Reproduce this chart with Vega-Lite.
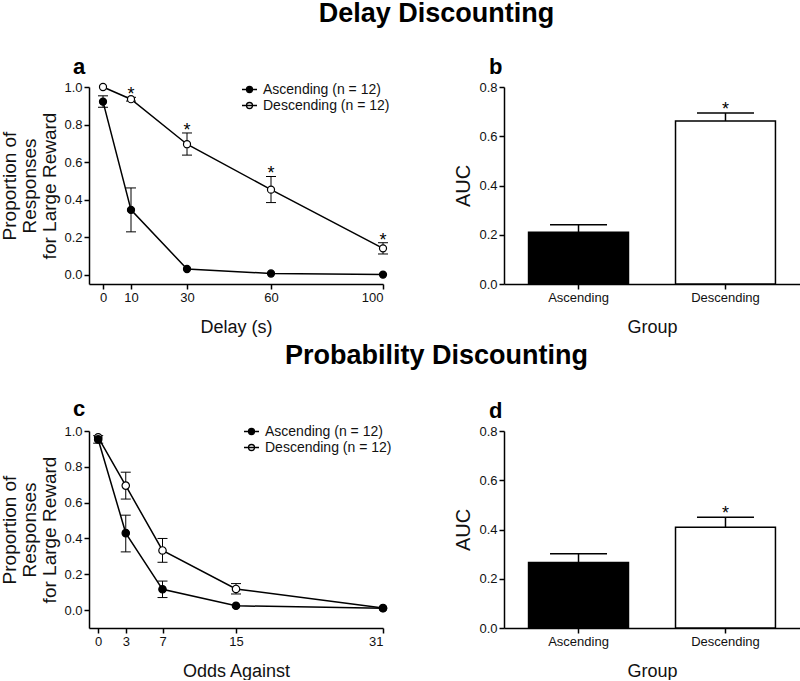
{
  "$schema": "https://vega.github.io/schema/vega-lite/v6.json",
  "autosize": {"type": "pad"},
  "padding": {"left": 0, "top": 0, "right": 0, "bottom": 0},
  "background": "white",
  "spacing": 6,
  "resolve": {"scale": {"fill": "independent"}, "legend": {"fill": "independent"}},
  "config": {
    "font": "Liberation Sans",
    "view": {"stroke": null},
    "axis": {"domainColor": "#000", "domainWidth": 1.5, "tickColor": "#000", "tickWidth": 1.5, "tickSize": 5, "labelColor": "#111", "labelFontSize": 13, "labelPadding": 2, "titleColor": "#111", "titleFontSize": 18, "titleFontWeight": "normal", "grid": false},
    "legend": {"padding": 0}
  },
  "datasets": {
    "delay": [
      {"series": "Descending (n = 12)", "delay": 0, "mean": 1.0},
      {"series": "Descending (n = 12)", "delay": 10, "mean": 0.935, "lo": 0.925, "hi": 0.945, "sig": "*"},
      {"series": "Descending (n = 12)", "delay": 30, "mean": 0.695, "lo": 0.637, "hi": 0.755, "sig": "*"},
      {"series": "Descending (n = 12)", "delay": 60, "mean": 0.453, "lo": 0.384, "hi": 0.523, "sig": "*"},
      {"series": "Descending (n = 12)", "delay": 100, "mean": 0.14, "lo": 0.11, "hi": 0.17, "sig": "*"},
      {"series": "Ascending (n = 12)", "delay": 0, "mean": 0.922, "lo": 0.892, "hi": 0.953},
      {"series": "Ascending (n = 12)", "delay": 10, "mean": 0.345, "lo": 0.228, "hi": 0.462},
      {"series": "Ascending (n = 12)", "delay": 30, "mean": 0.03},
      {"series": "Ascending (n = 12)", "delay": 60, "mean": 0.006},
      {"series": "Ascending (n = 12)", "delay": 100, "mean": 0.0}
    ],
    "delayAuc": [
      {"group": "Ascending", "auc": 0.21, "hi": 0.241},
      {"group": "Descending", "auc": 0.662, "hi": 0.694, "sig": "*"}
    ],
    "prob": [
      {"series": "Descending (n = 12)", "odds": 0, "mean": 0.965},
      {"series": "Descending (n = 12)", "odds": 3, "mean": 0.695, "lo": 0.62, "hi": 0.77},
      {"series": "Descending (n = 12)", "odds": 7, "mean": 0.333, "lo": 0.267, "hi": 0.4},
      {"series": "Descending (n = 12)", "odds": 15, "mean": 0.118, "lo": 0.09, "hi": 0.148},
      {"series": "Descending (n = 12)", "odds": 31, "mean": 0.012},
      {"series": "Ascending (n = 12)", "odds": 0, "mean": 0.953, "lo": 0.932, "hi": 0.974},
      {"series": "Ascending (n = 12)", "odds": 3, "mean": 0.43, "lo": 0.325, "hi": 0.53},
      {"series": "Ascending (n = 12)", "odds": 7, "mean": 0.116, "lo": 0.07, "hi": 0.162},
      {"series": "Ascending (n = 12)", "odds": 15, "mean": 0.024},
      {"series": "Ascending (n = 12)", "odds": 31, "mean": 0.01}
    ],
    "probAuc": [
      {"group": "Ascending", "auc": 0.266, "hi": 0.302},
      {"group": "Descending", "auc": 0.409, "hi": 0.45, "sig": "*"}
    ]
  },
  "vconcat": [
    {
      "title": {"text": "Delay Discounting", "fontSize": 27, "fontWeight": "bold", "color": "#000", "anchor": "middle", "frame": "bounds", "dx": 36, "baseline": "alphabetic", "offset": 7},
      "bounds": "flush",
      "spacing": 121,
      "resolve": {"scale": {"fill": "independent"}, "legend": {"fill": "independent"}},
      "hconcat": [
        {
          "width": 294, "height": 197,
          "title": {"text": "a", "anchor": "start", "frame": "group", "dx": -16, "fontSize": 22, "fontWeight": "bold", "color": "#000", "baseline": "alphabetic", "offset": -15},
          "data": {"name": "delay"},
          "encoding": {
            "x": {"field": "delay", "type": "quantitative", "scale": {"domain": [-5, 100], "nice": false, "zero": false}, "axis": {"values": [0, 10, 30, 60, 100], "title": "Delay (s)", "titlePadding": 14}}
          },
          "layer": [
            {"mark": {"type": "line", "color": "#000", "strokeWidth": 1.5},
             "encoding": {"y": {"field": "mean", "type": "quantitative", "scale": {"domain": [-0.05, 1], "nice": false, "zero": false}, "axis": {"values": [0, 0.2, 0.4, 0.6, 0.8, 1.0], "format": ".1f", "title": ["Proportion of", "Responses", "for Large Reward"], "titleFontSize": 19, "titleLineHeight": 20, "titlePadding": 4}}, "detail": {"field": "series"}}},
            {"mark": {"type": "rule", "color": "#000", "strokeWidth": 1},
             "encoding": {"y": {"field": "lo", "type": "quantitative", "scale": {"domain": [-0.05, 1], "nice": false, "zero": false}, "axis": {"values": [0, 0.2, 0.4, 0.6, 0.8, 1.0], "format": ".1f", "title": ["Proportion of", "Responses", "for Large Reward"], "titleFontSize": 19, "titleLineHeight": 20, "titlePadding": 4}}, "y2": {"field": "hi"}}},
            {"mark": {"type": "tick", "orient": "horizontal", "color": "#000", "size": 10, "thickness": 1, "opacity": 1},
             "encoding": {"y": {"field": "lo", "type": "quantitative", "scale": {"domain": [-0.05, 1], "nice": false, "zero": false}, "axis": {"values": [0, 0.2, 0.4, 0.6, 0.8, 1.0], "format": ".1f", "title": ["Proportion of", "Responses", "for Large Reward"], "titleFontSize": 19, "titleLineHeight": 20, "titlePadding": 4}}}},
            {"mark": {"type": "tick", "orient": "horizontal", "color": "#000", "size": 10, "thickness": 1, "opacity": 1},
             "encoding": {"y": {"field": "hi", "type": "quantitative", "scale": {"domain": [-0.05, 1], "nice": false, "zero": false}, "axis": {"values": [0, 0.2, 0.4, 0.6, 0.8, 1.0], "format": ".1f", "title": ["Proportion of", "Responses", "for Large Reward"], "titleFontSize": 19, "titleLineHeight": 20, "titlePadding": 4}}}},
            {"mark": {"type": "point", "filled": true, "opacity": 1, "stroke": "#000", "strokeWidth": 1.2, "size": 50},
             "encoding": {"y": {"field": "mean", "type": "quantitative", "scale": {"domain": [-0.05, 1], "nice": false, "zero": false}, "axis": {"values": [0, 0.2, 0.4, 0.6, 0.8, 1.0], "format": ".1f", "title": ["Proportion of", "Responses", "for Large Reward"], "titleFontSize": 19, "titleLineHeight": 20, "titlePadding": 4}},
               "fill": {"field": "series", "type": "nominal", "scale": {"domain": ["Ascending (n = 12)", "Descending (n = 12)"], "range": ["#000", "#fff"]},
                 "legend": {"orient": "none", "legendX": 152, "legendY": -6, "title": null, "symbolType": "M-1,0H1M-0.4,0A0.4,0.4,0,1,1,0.4,0A0.4,0.4,0,1,1,-0.4,0Z", "symbolSize": 225, "symbolStrokeColor": "#000", "symbolStrokeWidth": 1.3, "labelFontSize": 14, "labelColor": "#111", "rowPadding": 0, "labelOffset": 5}}}},
            {"mark": {"type": "text", "baseline": "alphabetic", "dy": 3, "fontSize": 18, "color": "#000"},
             "transform": [{"filter": "datum.sig"}],
             "encoding": {"y": {"field": "hi", "type": "quantitative", "scale": {"domain": [-0.05, 1], "nice": false, "zero": false}, "axis": {"values": [0, 0.2, 0.4, 0.6, 0.8, 1.0], "format": ".1f", "title": ["Proportion of", "Responses", "for Large Reward"], "titleFontSize": 19, "titleLineHeight": 20, "titlePadding": 4}}, "text": {"field": "sig"}}}
          ]
        },
        {
          "width": 296, "height": 197,
          "title": {"text": "b", "anchor": "start", "frame": "group", "dx": -15, "fontSize": 22, "fontWeight": "bold", "color": "#000", "baseline": "alphabetic", "offset": -15},
          "data": {"name": "delayAuc"},
          "encoding": {
            "x": {"field": "group", "type": "nominal", "scale": {"paddingInner": 0.32, "paddingOuter": 0.167}, "axis": {"labelAngle": 0, "title": "Group", "titlePadding": 14}}
          },
          "layer": [
            {"mark": {"type": "rule", "color": "#000", "strokeWidth": 1.5},
             "encoding": {"y": {"field": "auc", "type": "quantitative", "scale": {"domain": [0, 0.8], "nice": false}, "axis": {"values": [0, 0.2, 0.4, 0.6, 0.8], "format": ".1f", "title": "AUC", "titleFontSize": 20, "titlePadding": 5}}, "y2": {"field": "hi"}}},
            {"mark": {"type": "tick", "orient": "horizontal", "color": "#000", "size": 57, "thickness": 1.5, "opacity": 1},
             "encoding": {"y": {"field": "hi", "type": "quantitative", "scale": {"domain": [0, 0.8], "nice": false}, "axis": {"values": [0, 0.2, 0.4, 0.6, 0.8], "format": ".1f", "title": "AUC", "titleFontSize": 20, "titlePadding": 5}}}},
            {"mark": {"type": "bar", "stroke": "#000", "strokeWidth": 1.5, "opacity": 1},
             "encoding": {"y": {"field": "auc", "type": "quantitative", "scale": {"domain": [0, 0.8], "nice": false}, "axis": {"values": [0, 0.2, 0.4, 0.6, 0.8], "format": ".1f", "title": "AUC", "titleFontSize": 20, "titlePadding": 5}},
               "fill": {"field": "group", "type": "nominal", "scale": {"domain": ["Ascending", "Descending"], "range": ["#000", "#fff"]}, "legend": null}}},
            {"mark": {"type": "text", "baseline": "alphabetic", "dy": 2, "fontSize": 18, "color": "#000"},
             "transform": [{"filter": "datum.sig"}],
             "encoding": {"y": {"field": "hi", "type": "quantitative", "scale": {"domain": [0, 0.8], "nice": false}, "axis": {"values": [0, 0.2, 0.4, 0.6, 0.8], "format": ".1f", "title": "AUC", "titleFontSize": 20, "titlePadding": 5}}, "text": {"field": "sig"}}}
          ]
        }
      ]
    },
    {
      "title": {"text": "Probability Discounting", "fontSize": 27, "fontWeight": "bold", "color": "#000", "anchor": "middle", "frame": "bounds", "dx": 36, "baseline": "alphabetic", "offset": 7},
      "bounds": "flush",
      "spacing": 121,
      "resolve": {"scale": {"fill": "independent"}, "legend": {"fill": "independent"}},
      "hconcat": [
        {
          "width": 294, "height": 197,
          "title": {"text": "c", "anchor": "start", "frame": "group", "dx": -16, "fontSize": 22, "fontWeight": "bold", "color": "#000", "baseline": "alphabetic", "offset": -15},
          "data": {"name": "prob"},
          "encoding": {
            "x": {"field": "odds", "type": "quantitative", "scale": {"domain": [-1, 31], "nice": false, "zero": false}, "axis": {"values": [0, 3, 7, 15, 31], "title": "Odds Against", "titlePadding": 14}}
          },
          "layer": [
            {"mark": {"type": "line", "color": "#000", "strokeWidth": 1.5},
             "encoding": {"y": {"field": "mean", "type": "quantitative", "scale": {"domain": [-0.1, 1], "nice": false, "zero": false}, "axis": {"values": [0, 0.2, 0.4, 0.6, 0.8, 1.0], "format": ".1f", "title": ["Proportion of", "Responses", "for Large Reward"], "titleFontSize": 19, "titleLineHeight": 20, "titlePadding": 4}}, "detail": {"field": "series"}}},
            {"mark": {"type": "rule", "color": "#000", "strokeWidth": 1},
             "encoding": {"y": {"field": "lo", "type": "quantitative", "scale": {"domain": [-0.1, 1], "nice": false, "zero": false}, "axis": {"values": [0, 0.2, 0.4, 0.6, 0.8, 1.0], "format": ".1f", "title": ["Proportion of", "Responses", "for Large Reward"], "titleFontSize": 19, "titleLineHeight": 20, "titlePadding": 4}}, "y2": {"field": "hi"}}},
            {"mark": {"type": "tick", "orient": "horizontal", "color": "#000", "size": 10, "thickness": 1, "opacity": 1},
             "encoding": {"y": {"field": "lo", "type": "quantitative", "scale": {"domain": [-0.1, 1], "nice": false, "zero": false}, "axis": {"values": [0, 0.2, 0.4, 0.6, 0.8, 1.0], "format": ".1f", "title": ["Proportion of", "Responses", "for Large Reward"], "titleFontSize": 19, "titleLineHeight": 20, "titlePadding": 4}}}},
            {"mark": {"type": "tick", "orient": "horizontal", "color": "#000", "size": 10, "thickness": 1, "opacity": 1},
             "encoding": {"y": {"field": "hi", "type": "quantitative", "scale": {"domain": [-0.1, 1], "nice": false, "zero": false}, "axis": {"values": [0, 0.2, 0.4, 0.6, 0.8, 1.0], "format": ".1f", "title": ["Proportion of", "Responses", "for Large Reward"], "titleFontSize": 19, "titleLineHeight": 20, "titlePadding": 4}}}},
            {"mark": {"type": "point", "filled": true, "opacity": 1, "stroke": "#000", "strokeWidth": 1.2, "size": 55},
             "encoding": {"y": {"field": "mean", "type": "quantitative", "scale": {"domain": [-0.1, 1], "nice": false, "zero": false}, "axis": {"values": [0, 0.2, 0.4, 0.6, 0.8, 1.0], "format": ".1f", "title": ["Proportion of", "Responses", "for Large Reward"], "titleFontSize": 19, "titleLineHeight": 20, "titlePadding": 4}},
               "fill": {"field": "series", "type": "nominal", "scale": {"domain": ["Ascending (n = 12)", "Descending (n = 12)"], "range": ["#000", "#fff"]},
                 "legend": {"orient": "none", "legendX": 154, "legendY": -8, "title": null, "symbolType": "M-1,0H1M-0.4,0A0.4,0.4,0,1,1,0.4,0A0.4,0.4,0,1,1,-0.4,0Z", "symbolSize": 225, "symbolStrokeColor": "#000", "symbolStrokeWidth": 1.3, "labelFontSize": 14, "labelColor": "#111", "rowPadding": 0, "labelOffset": 5}}}}
          ]
        },
        {
          "width": 296, "height": 197,
          "title": {"text": "d", "anchor": "start", "frame": "group", "dx": -15, "fontSize": 22, "fontWeight": "bold", "color": "#000", "baseline": "alphabetic", "offset": -15},
          "data": {"name": "probAuc"},
          "encoding": {
            "x": {"field": "group", "type": "nominal", "scale": {"paddingInner": 0.32, "paddingOuter": 0.167}, "axis": {"labelAngle": 0, "title": "Group", "titlePadding": 14}}
          },
          "layer": [
            {"mark": {"type": "rule", "color": "#000", "strokeWidth": 1.5},
             "encoding": {"y": {"field": "auc", "type": "quantitative", "scale": {"domain": [0, 0.8], "nice": false}, "axis": {"values": [0, 0.2, 0.4, 0.6, 0.8], "format": ".1f", "title": "AUC", "titleFontSize": 20, "titlePadding": 5}}, "y2": {"field": "hi"}}},
            {"mark": {"type": "tick", "orient": "horizontal", "color": "#000", "size": 57, "thickness": 1.5, "opacity": 1},
             "encoding": {"y": {"field": "hi", "type": "quantitative", "scale": {"domain": [0, 0.8], "nice": false}, "axis": {"values": [0, 0.2, 0.4, 0.6, 0.8], "format": ".1f", "title": "AUC", "titleFontSize": 20, "titlePadding": 5}}}},
            {"mark": {"type": "bar", "stroke": "#000", "strokeWidth": 1.5, "opacity": 1},
             "encoding": {"y": {"field": "auc", "type": "quantitative", "scale": {"domain": [0, 0.8], "nice": false}, "axis": {"values": [0, 0.2, 0.4, 0.6, 0.8], "format": ".1f", "title": "AUC", "titleFontSize": 20, "titlePadding": 5}},
               "fill": {"field": "group", "type": "nominal", "scale": {"domain": ["Ascending", "Descending"], "range": ["#000", "#fff"]}, "legend": null}}},
            {"mark": {"type": "text", "baseline": "alphabetic", "dy": 2, "fontSize": 18, "color": "#000"},
             "transform": [{"filter": "datum.sig"}],
             "encoding": {"y": {"field": "hi", "type": "quantitative", "scale": {"domain": [0, 0.8], "nice": false}, "axis": {"values": [0, 0.2, 0.4, 0.6, 0.8], "format": ".1f", "title": "AUC", "titleFontSize": 20, "titlePadding": 5}}, "text": {"field": "sig"}}}
          ]
        }
      ]
    }
  ]
}
